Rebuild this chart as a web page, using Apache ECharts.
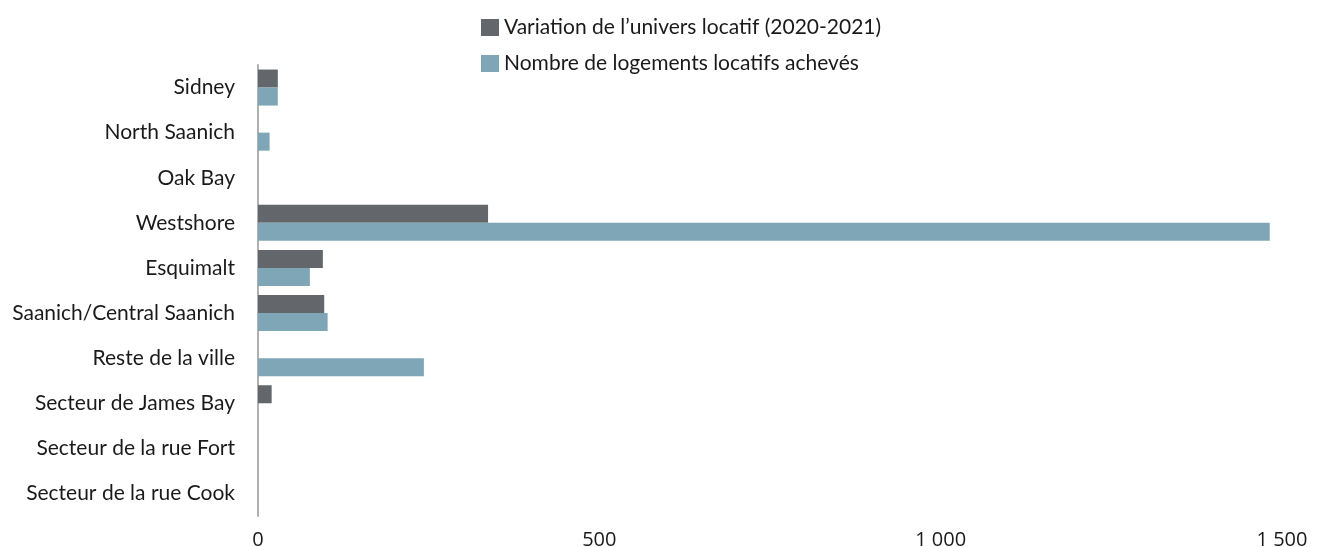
<!DOCTYPE html>
<html>
<head>
<meta charset="utf-8">
<script src="https://cdn.jsdelivr.net/npm/echarts@6/dist/echarts.min.js"></script>
<style>
  html, body { margin: 0; padding: 0; background: #fff; }
  #chart { width: 1319px; height: 547px; }
</style>
</head>
<body>
<div id="chart"></div>
<script>
const categories = ['Sidney', 'North Saanich', 'Oak Bay', 'Westshore', 'Esquimalt',
  'Saanich/Central Saanich', 'Reste de la ville', 'Secteur de James Bay',
  'Secteur de la rue Fort', 'Secteur de la rue Cook'];
const variation = [29, 0, 0, 337, 95, 97, 0, 20, 0, 0];
const acheves = [29, 17, 0, 1482, 76, 102, 243, 0, 0, 0];
const xTicks = [0, 500, 1000, 1500];

const chart = echarts.init(document.getElementById('chart'));

const option = {
  backgroundColor: '#fff',
  textStyle: { fontFamily: 'Lato' },
  legend: {
    orient: 'vertical',
    left: 476,
    top: 12,
    itemWidth: 18,
    itemHeight: 17,
    itemGap: 15,
    icon: 'rect',
    textStyle: { fontSize: 21, lineHeight: 20, color: '#1a1a1a', fontFamily: 'Lato' },
    data: ['Variation de l\u2019univers locatif (2020-2021)', 'Nombre de logements locatifs achev\u00e9s']
  },
  grid: { left: 258, right: 37, top: 65, bottom: 31, containLabel: false, outerBoundsMode: 'none' },
  xAxis: {
    type: 'value',
    min: xTicks[0],
    max: xTicks[xTicks.length - 1],
    interval: 500,
    axisLine: { show: false },
    axisTick: { show: false },
    splitLine: { show: false },
    axisLabel: {
      color: '#1a1a1a',
      fontSize: 20,
      fontFamily: 'Open Sans',
      margin: 14,
      formatter: v => String(v).replace(/\B(?=(\d{3})+(?!\d))/g, ' ')
    }
  },
  yAxis: {
    type: 'category',
    inverse: true,
    data: categories,
    axisLine: { show: true, lineStyle: { color: '#b0b0b0', width: 2 } },
    axisTick: { show: false },
    axisLabel: { color: '#1a1a1a', fontSize: 21, margin: 23, fontFamily: 'Lato' }
  },
  series: [
    {
      name: 'Variation de l\u2019univers locatif (2020-2021)',
      type: 'bar',
      data: variation,
      barWidth: 18,
      barGap: '0%',
      itemStyle: { color: '#63666a' }
    },
    {
      name: 'Nombre de logements locatifs achev\u00e9s',
      type: 'bar',
      data: acheves,
      barWidth: 18,
      barGap: '0%',
      itemStyle: { color: '#7fa6b7' }
    }
  ]
};

chart.setOption(option);
window.onresize = function () { chart.resize(); };
</script>
</body>
</html>
